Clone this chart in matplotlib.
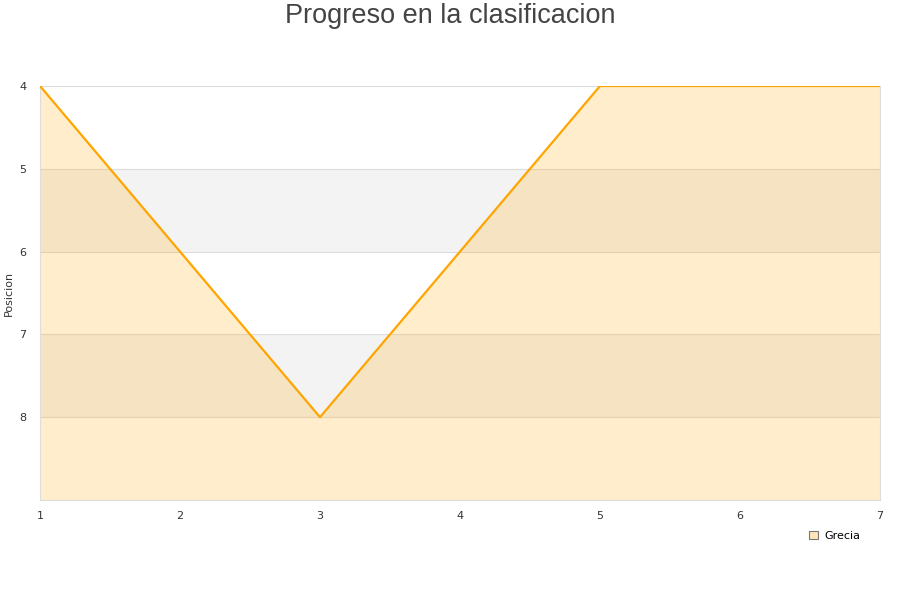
import matplotlib
matplotlib.use("Agg")
import matplotlib.pyplot as plt

# Datos
jornadas = [1, 2, 3, 4, 5, 6, 7]
posicion = [4, 6, 8, 6, 4, 4, 4]
equipo = "Grecia"

fig = plt.figure(figsize=(9, 6), dpi=100)
ax = fig.add_axes([40 / 900, 100 / 600, 840 / 900, 414 / 600])

# Bandas alternas de fondo
for y0 in [5, 7]:
    ax.axhspan(y0, y0 + 1, color="#f3f3f3", zorder=0, lw=0)
for y in [5, 6, 7, 8]:
    ax.axhline(y, color="#dddddd", lw=0.8, zorder=1)

# Area + linea
ax.fill_between(jornadas, posicion, 9, color="#ffa500", alpha=0.2, lw=0, zorder=2)
ax.plot(jornadas, posicion, color="#ffa500", lw=1.6, zorder=3)

ax.set_xlim(1, 7)
ax.set_ylim(9, 4)
ax.set_xticks(jornadas)
ax.set_yticks([4, 5, 6, 7, 8])
ax.tick_params(length=0, labelsize=8, colors="#333333", pad=8)
ax.tick_params(axis="y", pad=10)
for s in ax.spines.values():
    s.set_color("#dddddd")
ax.set_ylabel("Posicion", fontsize=8, color="#333333")

fig.text(0.5, 1 - 16 / 600, "Progreso en la clasificacion", ha="center", va="center",
         fontsize=19.5, color="#444444", family="Liberation Sans")

leg = fig.legend(handles=[plt.Rectangle((0, 0), 1, 1, facecolor="#ffe5b8", edgecolor="#777777", lw=0.8)],
                 labels=[equipo], loc="center", bbox_to_anchor=(835 / 900, 1 - 536 / 600),
                 frameon=False, fontsize=8, handlelength=0.8, handleheight=0.8, handletextpad=0.6)

fig.savefig("out.png")
